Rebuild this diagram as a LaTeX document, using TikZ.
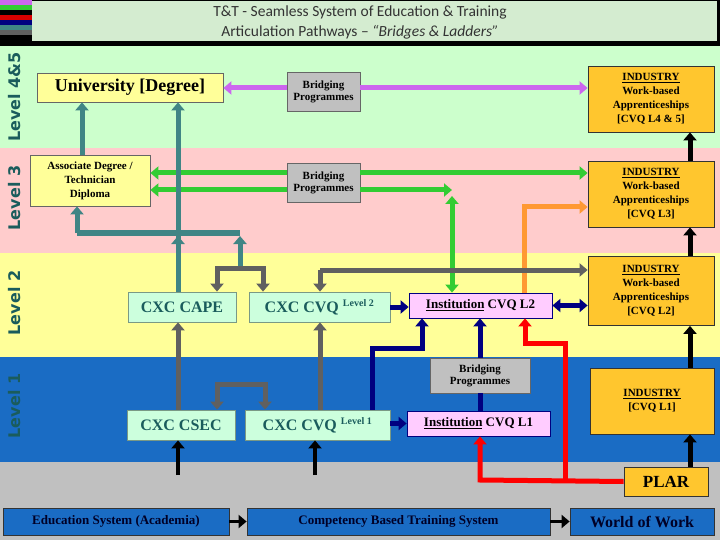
\documentclass[tikz,border=0pt]{standalone}
\usepackage{fontspec}
\setmainfont{Liberation Serif}
\newfontfamily\titlefont{Carlito}
\newfontfamily\lvlfont{DejaVu Sans}
\usetikzlibrary{arrows.meta}
\definecolor{bgG}{HTML}{CCFFCC}
\definecolor{bgP}{HTML}{FFCCCC}
\definecolor{bgY}{HTML}{FFFF99}
\definecolor{bgB}{HTML}{1A6CC4}
\definecolor{bgS}{HTML}{C0C0C0}
\definecolor{ttl}{HTML}{D4ECD0}
\definecolor{orng}{HTML}{FFC62E}
\definecolor{mint}{HTML}{CCFFDD}
\definecolor{pnk}{HTML}{FFCCFF}
\definecolor{tealc}{HTML}{408585}
\definecolor{tealt}{HTML}{1A5C5C}
\definecolor{grayc}{HTML}{606060}
\definecolor{navyc}{HTML}{000080}
\definecolor{purp}{HTML}{CC66EE}
\definecolor{grn}{HTML}{33CC33}
\definecolor{orc}{HTML}{FF9933}
\definecolor{boxb}{HTML}{1A6CC4}
\begin{document}
\begin{tikzpicture}[x=1pt,y=-1pt,
 bx/.style={draw=black!60,line width=0.8pt,inner sep=2pt,align=center,font=\bfseries},
 yel/.style={bx,fill=bgY},
 gr/.style={bx,fill=bgS,font=\bfseries\fontsize{11}{12}\selectfont},
 ind/.style={bx,draw=black!80,fill=orng,font=\bfseries\fontsize{11}{14}\selectfont},
 cxc/.style={bx,fill=mint,draw=mint!60!black,text=tealt,font=\bfseries\fontsize{16}{18}\selectfont},
 inst/.style={bx,fill=pnk,draw=navyc,font=\bfseries\fontsize{13}{14}\selectfont},
 bot/.style={bx,fill=boxb,draw=black!80,text=black!85!blue,font=\bfseries\fontsize{13}{14}\selectfont},
 ar/.style={line width=5pt,-{Triangle[length=8pt,width=13pt]}},
 arr/.style={line width=5pt,{Triangle[length=8pt,width=13pt]}-{Triangle[length=8pt,width=13pt]}},
 ln/.style={line width=5pt},
 lvl/.style={rotate=90,font=\lvlfont\bfseries\fontsize{16}{16}\selectfont,text=tealt,draw=none}]
\useasboundingbox (0,0) rectangle (720,540);
% bands
\fill[bgG] (0,45) rectangle (720,148);
\fill[bgP] (0,148) rectangle (720,253);
\fill[bgY] (0,253) rectangle (720,357);
\fill[bgB] (0,357) rectangle (720,462);
\fill[bgS] (0,462) rectangle (720,540);
% title
\fill[black] (0,0) rectangle (720,46);
\fill[ttl] (32,1) rectangle (717,41);
\foreach \c [count=\i from 0] in {purp,grn,black,red!85!black,navyc,tealc,grayc}
  \fill[\c] (0,\i*5) rectangle (32,\i*5+5);
\node[font=\titlefont\fontsize{15.5}{20}\selectfont,text=black!80,align=center] (title) at (360,22)
 {T\&T - Seamless System of Education \& Training\\Articulation Pathways – \textit{“Bridges \& Ladders”}};
% level labels
\node[lvl] (l45) at (15,97) {Level 4\&5};
\node[lvl] (l3) at (15,198) {Level 3};
\node[lvl] (l2) at (15,303) {Level 2};
\node[lvl] (l1) at (15,406) {Level 1};
% nodes
\node[yel,minimum width=186pt,minimum height=29pt,font=\bfseries\fontsize{18}{19}\selectfont] (uni) at (130,87.5) {University [Degree]};
\node[gr,minimum width=73pt,minimum height=39pt] (br1) at (323.5,91.5) {Bridging\\Programmes};
\node[ind,minimum width=126pt,minimum height=66pt] (i45) at (651,99) {\underline{INDUSTRY}\\Work-based\\Apprenticeships\\{[CVQ L4 \& 5]}};
\node[yel,minimum width=120pt,minimum height=51pt,font=\bfseries\fontsize{11}{14}\selectfont] (asc) at (90,180.5) {Associate Degree /\\Technician\\Diploma};
\node[gr,minimum width=73pt,minimum height=39pt] (br2) at (323.5,182.5) {Bridging\\Programmes};
\node[ind,minimum width=126pt,minimum height=66pt] (i3) at (651,194) {\underline{INDUSTRY}\\Work-based\\Apprenticeships\\{[CVQ L3]}};
\node[ind,minimum width=126pt,minimum height=69pt] (i2) at (651,291) {\underline{INDUSTRY}\\Work-based\\Apprenticeships\\{[CVQ L2]}};
\node[cxc,minimum width=108pt,minimum height=30pt] (cape) at (182,307) {CXC CAPE};
\node[cxc,minimum width=141pt,minimum height=30pt] (cvq2) at (319.5,307) {CXC CVQ \textsuperscript{\fontsize{10}{10}\selectfont Level 2}};
\node[inst,minimum width=143pt,minimum height=25pt] (in2) at (480.5,305.5) {\underline{Institution} CVQ L2};
\node[gr,minimum width=100pt,minimum height=35pt] (br3) at (480,375.5) {Bridging\\Programmes};
\node[cxc,minimum width=108pt,minimum height=30pt] (csec) at (181,425) {CXC CSEC};
\node[cxc,minimum width=145pt,minimum height=30pt] (cvq1) at (317.5,425) {CXC CVQ \textsuperscript{\fontsize{10}{10}\selectfont Level 1}};
\node[inst,minimum width=143pt,minimum height=25pt] (in1) at (478.5,423.5) {\underline{Institution} CVQ L1};
\node[ind,minimum width=124pt,minimum height=66pt] (i1) at (652,401) {\underline{INDUSTRY}\\{[CVQ L1]}};
\node[ind,minimum width=84pt,minimum height=29pt,font=\bfseries\fontsize{17}{18}\selectfont] (plar) at (666,481.5) {PLAR};
\node[bot,minimum width=226pt,minimum height=27pt] (edu) at (116,521.5) {Education System (Academia)};
\node[bot,minimum width=303pt,minimum height=27pt] (cbt) at (398.5,521.5) {Competency Based Training System};
\node[bot,minimum width=144pt,minimum height=27pt,font=\bfseries\fontsize{16}{17}\selectfont] (wow) at (642,521.5) {World of Work};
% purple
\draw[ar,purp] (br1.west|-0,88) -- (uni.east|-0,88);
\draw[ar,purp] (br1.east|-0,88) -- (i45.west|-0,88);
% green
\draw[ar,grn] (br2.west|-0,173) -- (asc.east|-0,173);
\draw[ar,grn] (br2.west|-0,190) -- (asc.east|-0,190);
\draw[ar,grn] (br2.east|-0,173) -- (i3.west|-0,173);
\coordinate (gj) at (452,190);
\draw[ar,grn] (br2.east|-0,190) -- (gj);
\draw[arr,grn] (452,196) -- (in2.north-|452,0);
% orange
\draw[ar,orc] (in2.north-|524,0) -- (524,207) -- (i3.west|-0,207);
% black industry ladder
\draw[ar,black] (plar.north-|690,0) -- (i1.south-|690,0);
\draw[ar,black] (i1.north-|690,0) -- (i2.south-|690,0);
\draw[ar,black] (i2.north-|690,0) -- (i3.south-|690,0);
\draw[ar,black] (i3.north-|690,0) -- (i45.south-|690,0);
% teal
\draw[ar,tealc] (asc.north-|82,0) -- (uni.south-|82,0);
\draw[ar,tealc] (cape.north-|178,0) -- (uni.south-|178,0);
\draw[ln,tealc] (240,233) -- (77,233);
\draw[ar,tealc] (77,233) -- (asc.south-|77,0);
\draw[ar,tealc] (178,250) -- (178,236);
\draw[ar,tealc] (240,268) -- (240,236);
% gray
\draw[ar,grayc] (240,268) -- (217,268) -- (cape.north-|217,0);
\draw[ar,grayc] (240,268) -- (263,268) -- (cvq2.north-|263,0);
\draw[ar,grayc] (320,270) -- (i2.west|-0,270);
\draw[ar,grayc] (320,270) -- (cvq2.north-|320,0);
\draw[ar,grayc] (csec.north-|178,0) -- (cape.south-|178,0);
\draw[ar,grayc] (cvq1.north-|320,0) -- (cvq2.south-|320,0);
\draw[arr,grayc] (csec.north-|217,0) -- (217,384) -- (265,384) -- (cvq1.north-|265,0);
% navy
\draw[ar,navyc] (cvq2.east) -- (in2.west|-cvq2.east);
\draw[ar,navyc] (cvq1.east|-in1.west) -- (in1.west);
\draw[arr,navyc] (in2.east) -- (in2.east-|i2.west);
\draw[ar,navyc] (cvq1.north-|372,0) -- (372,348) -- (422,348) -- (in2.south-|422,0);
\draw[ln,navyc] (in1.north-|480,0) -- (br3.south);
\draw[ar,navyc] (br3.north) -- (in2.south-|480,0);
% red
\draw[ar,red] (plar.west) -- (480,480) -- (in1.south-|480,0);
\draw[ar,red] (565,480) -- (565,343) -- (525,343) -- (in2.south-|525,0);
% bottom black
\draw[ar,black,line width=4pt] (178,475) -- (csec.south-|178,0);
\draw[ar,black,line width=4pt] (315,475) -- (cvq1.south-|315,0);
\draw[ar,black,line width=3pt] (edu.east) -- (cbt.west);
\draw[ar,black,line width=3pt] (cbt.east) -- (wow.west);
\end{tikzpicture}
\end{document}
